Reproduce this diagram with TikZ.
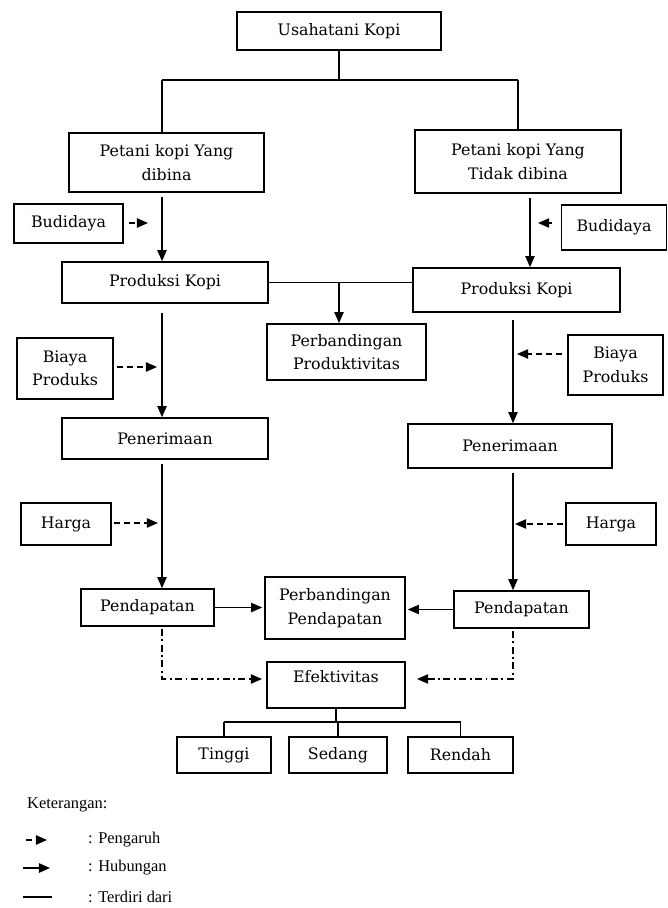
\documentclass[tikz,border=0pt]{standalone}
\usepackage{fontspec}
\setmainfont{DejaVu Serif}
\newfontfamily\notefont{Liberation Serif}
\usetikzlibrary{arrows.meta}

\begin{document}
\begin{tikzpicture}[x = 0.03cm, y = -0.03cm]
    \def\pix{0.03cm}
    \tikzset{
        box/.style = {
            draw,
            line width = 1.4pt,
            rectangle,
            inner sep = 0pt,
            align = center,
            font = \fontsize{13.5}{20}\selectfont
        },
        dims/.style 2 args = {
            minimum width = #1*\pix,
            minimum height = #2*\pix
        },
        part/.style = {
            line width = 1.1pt
        },
        link/.style = {
            part,
            -{Triangle[length = 9.5pt, width = 8pt]}
        },
        influence/.style = {
            link,
            dash pattern = on 5pt off 3.5pt
        },
        effect/.style = {
            link,
            dash pattern = on 6pt off 3pt on 1.5pt off 3pt
        },
        legend/.style = {
            anchor = west,
            inner sep = 0pt,
            font = \notefont\fontsize{14}{16}\selectfont
        }
    }

    \useasboundingbox (0, 0) rectangle (667, 908);

    \node[box, dims = {204}{38}] (usaha) at (339, 31) {Usahatani Kopi};
    \node[box, dims = {195}{59}] (petA) at (166.5, 162.5) {Petani kopi Yang\\dibina};
    \node[box, dims = {206}{63}] (petB) at (518, 161.5) {Petani kopi Yang\\Tidak dibina};
    \node[box, dims = {109}{39}] (budA) at (68.5, 223.5) {Budidaya};
    \node[box, dims = {105}{45}] (budB) at (614, 227.5) {Budidaya};
    \node[box, dims = {206}{41}] (prodA) at (165, 282.5) {Produksi Kopi};
    \node[box, dims = {207}{44}] (prodB) at (516.5, 290) {Produksi Kopi};
    \node[box, dims = {159}{56}] (prodAB) at (346.5, 352) {Perbandingan\\Produktivitas};
    \node[box, dims = {96}{61}] (biayaA) at (65, 368.5) {Biaya\\Produks};
    \node[box, dims = {95}{60}] (biayaB) at (615.5, 365) {Biaya\\Produks};
    \node[box, dims = {206}{41}] (penA) at (165, 438.5) {Penerimaan};
    \node[box, dims = {204}{44}] (penB) at (510, 446) {Penerimaan};
    \node[box, dims = {90}{42}] (hargaA) at (66, 524) {Harga};
    \node[box, dims = {90}{42}] (hargaB) at (611, 524) {Harga};
    \node[box, dims = {133}{37}] (pendA) at (147.5, 607.5) {Pendapatan};
    \node[box, dims = {135}{37}] (pendB) at (521.5, 609.5) {Pendapatan};
    \node[box, dims = {140}{62}] (pendAB) at (335, 608) {Perbandingan\\Pendapatan};
    \node[box, dims = {138}{46}, text depth = 14pt] (efek) at (336, 685) {Efektivitas};
    \node[box, dims = {94}{36}] (tinggi) at (224, 755) {Tinggi};
    \node[box, dims = {98}{36}] (sedang) at (338, 755) {Sedang};
    \node[box, dims = {105}{36}] (rendah) at (460.5, 755) {Rendah};

    \coordinate (colA) at (162, 0);
    \coordinate (colB) at (513, 0);
    \coordinate (colT) at (530, 0);
    \coordinate (forkT) at (0, 80);
    \coordinate (forkE) at (0, 722);
    \coordinate (split) at (339, 283);
    \coordinate (budAend) at (148, 223);
    \coordinate (budBend) at (538, 223);
    \coordinate (biaAend) at (157, 367);
    \coordinate (biaBend) at (517, 354);
    \coordinate (hrgAend) at (158, 523);
    \coordinate (hrgBend) at (515, 524);
    \coordinate (efkA) at (262, 679);
    \coordinate (efkB) at (417, 679);

    % terdiri dari
    \draw[part] (usaha.south) -- (usaha.south |- forkT);
    \draw[part] (forkT -| colA) -- (forkT -| petB.north);
    \draw[part] (forkT -| colA) -- (petA.north -| colA);
    \draw[part] (forkT -| petB.north) -- (petB.north);
    \draw[part] (efek.south) -- (efek.south |- forkE);
    \draw[part] (forkE -| tinggi.north) -- (forkE -| rendah.north);
    \foreach \n in {tinggi, sedang, rendah}{
        \draw[part] (forkE -| \n.north) -- (\n.north);
    }

    % hubungan
    \draw[link, shorten <= 4*\pix] (petA.south -| colA) -- (prodA.north -| colA);
    \draw[link, shorten <= 4*\pix] (petB.south -| colT) -- (prodB.north -| colT);
    \draw[part] (prodA.east) -- (prodA.east -| prodB.west);
    \draw[link] (split) -- (prodAB.north -| split);
    \draw[link, shorten <= 9*\pix] (prodA.south -| colA) -- (penA.north -| colA);
    \draw[link, shorten <= 7*\pix] (prodB.south -| colB) -- (penB.north -| colB);
    \draw[link, shorten <= 4*\pix] (penA.south -| colA) -- (pendA.north -| colA);
    \draw[link, shorten <= 4*\pix] (penB.south -| colB) -- (pendB.north -| colB);
    \draw[link, shorten >= 2*\pix] (pendA.east) -- (pendA.east -| pendAB.west);
    \draw[link, shorten >= 2*\pix] (pendB.west) -- (pendB.west -| pendAB.east);

    % pengaruh
    \draw[influence, shorten <= 5*\pix] (budAend -| budA.east) -- (budAend);
    \draw[influence, shorten <= 9*\pix] (budBend -| budB.west) -- (budBend);
    \draw[influence, shorten <= 3*\pix] (biaAend -| biayaA.east) -- (biaAend);
    \draw[influence, shorten <= 5*\pix] (biaBend -| biayaB.west) -- (biaBend);
    \draw[influence, shorten <= 2*\pix] (hrgAend -| hargaA.east) -- (hrgAend);
    \draw[influence, shorten <= 2*\pix] (hrgBend -| hargaB.west) -- (hrgBend);
    \draw[effect, shorten <= 2*\pix] (pendA.south -| colA) |- (efkA);
    \draw[effect, shorten <= 2*\pix] (pendB.south -| colB) |- (efkB);

    % keterangan
    \node[legend] (note) at (27, 805) {Keterangan:};
    \node[legend] (keyA) at (88, 840) {: Pengaruh};
    \node[legend] (keyB) at (88, 868) {: Hubungan};
    \node[legend] (keyC) at (88, 897) {: Terdiri dari};
    \draw[influence, line width = 1.3pt] ([xshift = -62*\pix]keyA.west) -- ++(21, 0);
    \draw[link, line width = 1.4pt] ([xshift = -65*\pix]keyB.west) -- ++(27, 0);
    \draw[part, line width = 1.4pt] ([xshift = -65*\pix]keyC.west) -- ++(29, 0);

\end{tikzpicture}
\end{document}
